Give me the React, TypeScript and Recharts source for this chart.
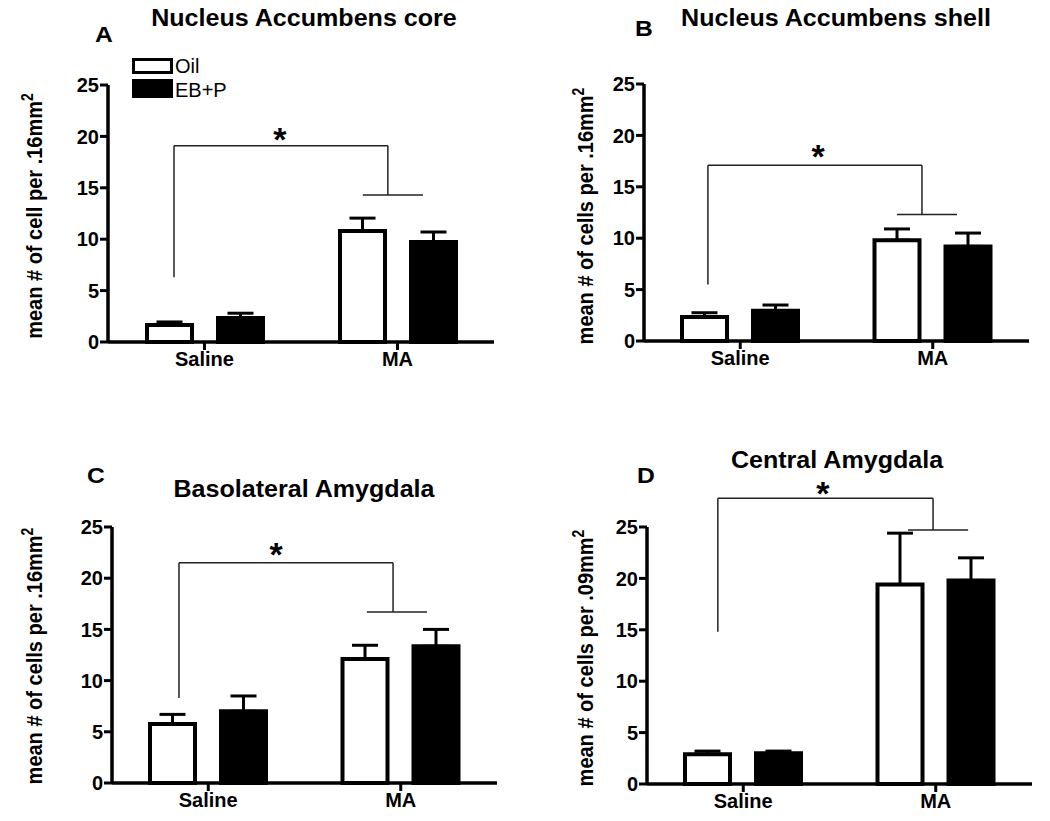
import React from "react";
import {
  BarChart,
  Bar,
  XAxis,
  YAxis,
  ErrorBar,
  ReferenceLine,
  ReferenceDot,
} from "recharts";

const FONT = '"Liberation Sans", Arial, Helvetica, sans-serif';

const categories = ["Saline", "MA"];
const yTicks = [0, 5, 10, 15, 20, 25];

// A - Nucleus Accumbens core
const coreOil = [1.65, 10.8];
const coreOilSem = [0.3, 1.25];
const coreEb = [2.33, 9.73];
const coreEbSem = [0.47, 0.97];

// B - Nucleus Accumbens shell
const shellOil = [2.33, 9.8];
const shellOilSem = [0.42, 1.1];
const shellEb = [2.95, 9.2];
const shellEbSem = [0.55, 1.3];

// C - Basolateral Amygdala
const blaOil = [5.75, 12.1];
const blaOilSem = [0.95, 1.35];
const blaEb = [7.0, 13.35];
const blaEbSem = [1.5, 1.65];

// D - Central Amygdala
const ceaOil = [2.9, 19.4];
const ceaOilSem = [0.3, 5.0];
const ceaEb = [3.0, 19.8];
const ceaEbSem = [0.2, 2.2];

// significance brackets: x as fraction of the x axis (0..1), y in data units
// [left x, right x, short bar from, short bar to, low y, top y, drop y, star x, star y]
const coreBracket = [0.171, 0.725, 0.66, 0.816, 6.3, 19.1, 14.3, 0.445, 20.4];
const shellBracket = [0.166, 0.722, 0.657, 0.813, 5.5, 17.1, 12.3, 0.452, 18.7];
const blaBracket = [0.174, 0.73, 0.662, 0.818, 8.3, 21.5, 16.7, 0.426, 23.0];
const ceaBracket = [0.184, 0.743, 0.678, 0.834, 14.8, 27.8, 24.7, 0.457, 29.0];

interface PanelProps {
  oil: number[];
  oilSem: number[];
  eb: number[];
  ebSem: number[];
  bracket: number[];
  box: { left: number; top: number };
  plot: { left: number; right: number; top: number; bottom: number };
}

const BOX_W = 525;
const BOX_H = 400;
const Y_W = 60;
const X_H = 30;

function Panel({ oil, oilSem, eb, ebSem, bracket, box, plot }: PanelProps) {
  const data = categories.map((g, i) => ({
    group: g,
    oil: oil[i],
    oilErr: [0, oilSem[i]],
    eb: eb[i],
    ebErr: [0, ebSem[i]],
  }));
  const margin = {
    left: plot.left - box.left - Y_W,
    right: box.left + BOX_W - plot.right,
    top: plot.top - box.top,
    bottom: box.top + BOX_H - plot.bottom - X_H,
  };
  const [lx, rx, sx1, sx2, lowY, topY, dropY, starX, starY] = bracket;
  const line = { stroke: "#222", strokeWidth: 1.5, ifOverflow: "visible" as const };
  const tick = { fill: "#000", fontSize: 20, fontWeight: "bold", fontFamily: FONT };

  return (
    <div style={{ position: "absolute", left: box.left, top: box.top }}>
      <BarChart width={BOX_W} height={BOX_H} data={data} margin={margin} barSize={45} barGap={26}>
        <XAxis
          dataKey="group"
          height={X_H}
          tick={tick}
          tickSize={8}
          tickMargin={2}
          axisLine={{ stroke: "#000", strokeWidth: 3.5 }}
          tickLine={{ stroke: "#000", strokeWidth: 3 }}
        />
        <XAxis xAxisId="n" type="number" domain={[0, 1]} allowDataOverflow hide />
        <YAxis
          width={Y_W}
          domain={[0, 25]}
          ticks={yTicks}
          interval={0}
          tick={tick}
          tickSize={8}
          tickMargin={1}
          axisLine={{ stroke: "#000", strokeWidth: 3.5 }}
          tickLine={{ stroke: "#000", strokeWidth: 3 }}
        />
        <Bar dataKey="oil" fill="#fff" stroke="#000" strokeWidth={4} isAnimationActive={false}>
          <ErrorBar dataKey="oilErr" direction="y" width={13} stroke="#000" strokeWidth={3} />
        </Bar>
        <Bar dataKey="eb" fill="#000" stroke="#000" strokeWidth={4} isAnimationActive={false}>
          <ErrorBar dataKey="ebErr" direction="y" width={13} stroke="#000" strokeWidth={3} />
        </Bar>
        <ReferenceLine xAxisId="n" segment={[{ x: lx, y: lowY }, { x: lx, y: topY }]} {...line} />
        <ReferenceLine xAxisId="n" segment={[{ x: lx, y: topY }, { x: rx, y: topY }]} {...line} />
        <ReferenceLine xAxisId="n" segment={[{ x: rx, y: topY }, { x: rx, y: dropY }]} {...line} />
        <ReferenceLine xAxisId="n" segment={[{ x: sx1, y: dropY }, { x: sx2, y: dropY }]} {...line} />
        <ReferenceDot
          xAxisId="n"
          x={starX}
          y={starY}
          r={0}
          ifOverflow="visible"
          shape={(p: any) => (
            <text
              x={p.cx}
              y={p.cy + 19}
              textAnchor="middle"
              fontSize={34}
              fontWeight="bold"
              fontFamily={FONT}
              fill="#000"
            >
              *
            </text>
          )}
        />
      </BarChart>
    </div>
  );
}

function Title({ text, cx, baseline }: { text: string; cx: number; baseline: number }) {
  return (
    <div
      style={{
        position: "absolute",
        left: cx,
        top: baseline - 0.8465 * 23,
        transform: "translateX(-50%) scaleX(1.09)",
        fontSize: 23,
        lineHeight: "23px",
        fontWeight: "bold",
        whiteSpace: "nowrap",
      }}
    >
      {text}
    </div>
  );
}

function Letter({ text, left, baseline }: { text: string; left: number; baseline: number }) {
  return (
    <div
      style={{
        position: "absolute",
        left,
        top: baseline - 0.8465 * 22,
        transform: "scaleX(1.12)",
        transformOrigin: "left",
        fontSize: 22,
        lineHeight: "22px",
        fontWeight: "bold",
      }}
    >
      {text}
    </div>
  );
}

function YLabel({ text, cx, cy }: { text: string; cx: number; cy: number }) {
  return (
    <div
      style={{
        position: "absolute",
        left: cx,
        top: cy,
        transform: "translate(-50%, -50%) rotate(-90deg) scaleY(1.12)",
        fontSize: 20,
        lineHeight: "22px",
        fontWeight: "bold",
        whiteSpace: "nowrap",
      }}
    >
      {text}
      <sup style={{ fontSize: 14 }}>2</sup>
    </div>
  );
}

export default function App() {
  return (
    <div
      style={{
        position: "absolute",
        left: 0,
        top: 0,
        width: 1050,
        height: 821,
        background: "#fff",
        fontFamily: FONT,
        color: "#000",
        overflow: "hidden",
      }}
    >
      <Panel
        oil={coreOil}
        oilSem={coreOilSem}
        eb={coreEb}
        ebSem={coreEbSem}
        bracket={coreBracket}
        box={{ left: 0, top: 0 }}
        plot={{ left: 108, right: 494, top: 85, bottom: 342 }}
      />
      <Panel
        oil={shellOil}
        oilSem={shellOilSem}
        eb={shellEb}
        ebSem={shellEbSem}
        bracket={shellBracket}
        box={{ left: 525, top: 0 }}
        plot={{ left: 644, right: 1029, top: 84, bottom: 341 }}
      />
      <Panel
        oil={blaOil}
        oilSem={blaOilSem}
        eb={blaEb}
        ebSem={blaEbSem}
        bracket={blaBracket}
        box={{ left: 0, top: 421 }}
        plot={{ left: 112, right: 497, top: 527, bottom: 783 }}
      />
      <Panel
        oil={ceaOil}
        oilSem={ceaOilSem}
        eb={ceaEb}
        ebSem={ceaEbSem}
        bracket={ceaBracket}
        box={{ left: 525, top: 421 }}
        plot={{ left: 647, right: 1032, top: 527, bottom: 784 }}
      />

      <Title text="Nucleus Accumbens core" cx={304} baseline={26} />
      <Title text="Nucleus Accumbens shell" cx={836} baseline={26} />
      <Title text="Basolateral Amygdala" cx={304} baseline={497} />
      <Title text="Central Amygdala" cx={837} baseline={468} />

      <Letter text="A" left={95} baseline={43} />
      <Letter text="B" left={635} baseline={37} />
      <Letter text="C" left={87} baseline={484} />
      <Letter text="D" left={637} baseline={484} />

      <YLabel text="mean # of cell per .16mm" cx={31} cy={216} />
      <YLabel text="mean # of cells per .16mm" cx={582} cy={216} />
      <YLabel text="mean # of cells per .16mm" cx={31} cy={656} />
      <YLabel text="mean # of cells per .09mm" cx={582} cy={658} />

      {/* legend */}
      <div
        style={{
          position: "absolute",
          left: 132,
          top: 58,
          width: 41,
          height: 16,
          border: "3px solid #000",
          boxSizing: "border-box",
          background: "#fff",
        }}
      />
      <div style={{ position: "absolute", left: 132, top: 79, width: 41, height: 19, background: "#000" }} />
      <div style={{ position: "absolute", left: 175, top: 73 - 0.8465 * 20, fontSize: 20, lineHeight: "20px" }}>
        Oil
      </div>
      <div style={{ position: "absolute", left: 175, top: 97 - 0.8465 * 20, fontSize: 20, lineHeight: "20px" }}>
        EB+P
      </div>
    </div>
  );
}
